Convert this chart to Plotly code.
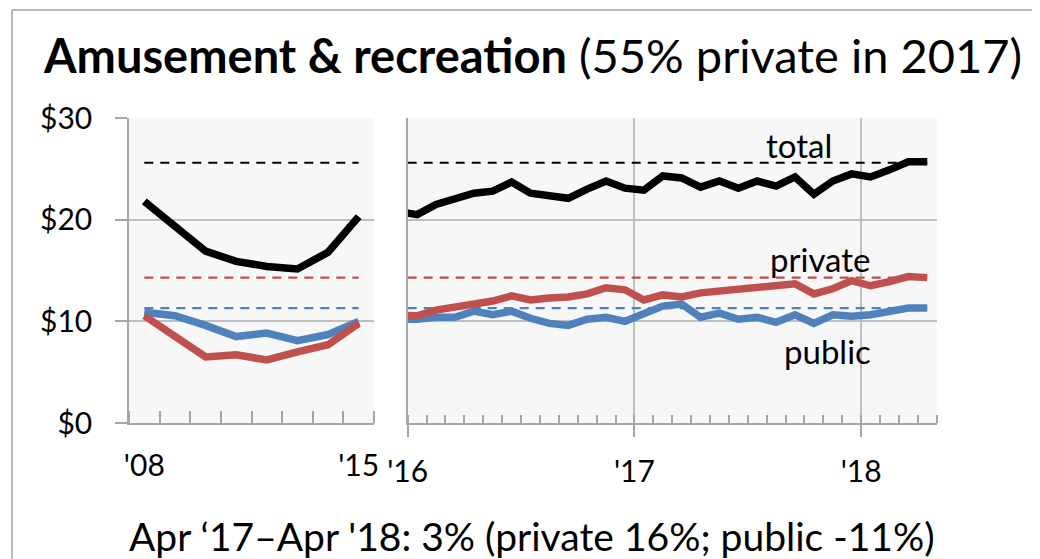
import plotly.graph_objects as go

# ---------------- data ----------------
years = ["'08", "'09", "'10", "'11", "'12", "'13", "'14", "'15"]
total_annual = [21.8, 19.3, 16.9, 15.9, 15.4, 15.15, 16.8, 20.3]
private_annual = [10.55, 8.5, 6.5, 6.7, 6.2, 7.0, 7.7, 9.8]
public_annual = [10.9, 10.55, 9.6, 8.5, 8.85, 8.1, 8.7, 10.0]

months = ["2015-12",
          "2016-01", "2016-02", "2016-03", "2016-04", "2016-05", "2016-06",
          "2016-07", "2016-08", "2016-09", "2016-10", "2016-11", "2016-12",
          "2017-01", "2017-02", "2017-03", "2017-04", "2017-05", "2017-06",
          "2017-07", "2017-08", "2017-09", "2017-10", "2017-11", "2017-12",
          "2018-01", "2018-02", "2018-03", "2018-04"]
total_monthly = [20.8,
                 20.5, 21.5, 22.0, 22.6, 22.8, 23.7, 22.6, 22.4, 22.1, 23.0, 23.8, 23.1,
                 22.9, 24.3, 24.1, 23.2, 23.8, 23.1, 23.8, 23.3, 24.2, 22.5, 23.8, 24.5,
                 24.2, 24.9, 25.7, 25.7]
private_monthly = [10.6,
                   10.55, 11.1, 11.4, 11.6, 12.0, 12.5, 12.1, 12.3, 12.4, 12.7, 13.3, 13.1,
                   12.1, 12.6, 12.4, 12.8, 12.95, 13.1, 13.4, 13.4, 13.7, 12.7, 13.2, 14.0,
                   13.5, 13.9, 14.4, 14.3]
public_monthly = [10.2,
                  10.2, 10.4, 10.4, 11.0, 10.65, 11.0, 10.3, 9.8, 9.6, 10.2, 10.4, 10.0,
                  10.8, 11.5, 11.7, 10.4, 10.8, 10.2, 10.4, 9.9, 10.65, 9.8, 10.65, 10.5,
                  10.65, 10.9, 11.3, 11.3]

# reference levels (latest values, Apr 2018)
ref_total = 25.6
ref_private = 14.3
ref_public = 11.3

year_ticks = ["'16", "'17", "'18"]
y_ticks = [0, 10, 20, 30]
y_labels = ["$0", "$10", "$20", "$30"]

title_bold = "Amusement & recreation"
title_rest = " (55% private in 2017)"
footer = "Apr ‘17–Apr '18: 3% (private 16%; public -11%)"

# ---------------- styles ----------------
BLACK = "#000000"
RED = "#C0504D"
BLUE = "#4F81BD"
GRID = "#BFBFBF"
AXIS = "#A6A6A6"
BG = "#F7F7F7"
FONT = "Lato"

# the page body adds an 8px margin, so the figure is shrunk and shifted by it
OFF = 8
W, H = 1040 - OFF, 559 - OFF
def px_x(p): return (p - OFF) / W
def px_y(p): return 1 - (p - OFF) / H

fig = go.Figure()

xa = list(range(len(years)))
first_month = 2016 * 12 + 0
xm = [(int(m[:4]) * 12 + int(m[5:]) - 1) - first_month for m in months]

series = [
    (total_annual, total_monthly, ref_total, BLACK),
    (private_annual, private_monthly, ref_private, RED),
    (public_annual, public_monthly, ref_public, BLUE),
]
# dashed reference lines
for _, _, ref, col in series:
    fig.add_trace(go.Scatter(x=[xa[0], xa[-1]], y=[ref, ref], mode="lines",
                             line=dict(color=col, width=2.2, dash="9px,7px"),
                             xaxis="x", yaxis="y", hoverinfo="skip"))
    fig.add_trace(go.Scatter(x=[-0.5, xm[-1]], y=[ref, ref], mode="lines",
                             line=dict(color=col, width=2.2, dash="9px,7px"),
                             xaxis="x2", yaxis="y2", hoverinfo="skip"))
# draw public, private, total order (total on top)
for ann, mon, _, col in reversed(series):
    fig.add_trace(go.Scatter(x=xa, y=ann, mode="lines",
                             line=dict(color=col, width=7.5),
                             xaxis="x", yaxis="y"))
    fig.add_trace(go.Scatter(x=xm, y=mon, mode="lines",
                             line=dict(color=col, width=7.5),
                             xaxis="x2", yaxis="y2"))

n_months = len(months) - 1
dom_y = [px_y(423), px_y(118)]

fig.update_layout(
    width=W, height=H,
    margin=dict(l=0, r=0, t=0, b=0, autoexpand=False),
    paper_bgcolor="white",
    plot_bgcolor=BG,
    showlegend=False,
    font=dict(family=FONT, color="black", size=30),
    xaxis=dict(domain=[px_x(129), px_x(374)], range=[-0.5, len(years) - 0.5],
               tickmode="array", tickvals=[0, len(years) - 1],
               ticktext=[years[0], years[-1]],
               ticks="", showgrid=False, zeroline=False,
               showline=True, linecolor=AXIS, linewidth=1.5,
               ticklabelstandoff=15, automargin=False,
               minor=dict(tickmode="array",
                          tickvals=[i - 0.5 for i in range(len(years) + 1)],
                          ticks="inside", ticklen=12, tickcolor=AXIS, tickwidth=1.5,
                          showgrid=False)),
    yaxis=dict(domain=dom_y, range=[0, 30], tickvals=y_ticks, ticktext=y_labels,
               ticks="outside", ticklen=12, tickcolor=AXIS, tickwidth=1.5,
               showline=True, linecolor=AXIS, linewidth=1.5,
               showgrid=True, gridcolor=GRID, gridwidth=1.5, zeroline=False,
               ticklabelstandoff=17, automargin=False),
    xaxis2=dict(domain=[px_x(407.7), px_x(936.7)], range=[-0.5, n_months - 0.5],
                anchor="y2",
                tickmode="array", tickvals=[-0.5, 11.5, 23.5], ticktext=year_ticks,
                ticks="outside", ticklen=12, tickcolor=AXIS, tickwidth=1.5,
                showgrid=True, gridcolor=GRID, gridwidth=1.5, zeroline=False,
                showline=True, linecolor=AXIS, linewidth=1.5,
                ticklabelstandoff=9, automargin=False,
                minor=dict(tickmode="array",
                           tickvals=[i - 0.5 for i in range(n_months + 1)],
                           ticks="inside", ticklen=8, tickcolor=AXIS, tickwidth=1.5,
                           showgrid=False)),
    yaxis2=dict(domain=dom_y, range=[0, 30], anchor="x2", tickvals=y_ticks,
                showticklabels=False, ticks="", automargin=False,
                showline=True, linecolor=AXIS, linewidth=1.5,
                showgrid=True, gridcolor=GRID, gridwidth=1.5, zeroline=False),
)

fig.add_annotation(xref="paper", yref="paper", x=px_x(532), y=px_y(55),
                   xanchor="center", yanchor="middle", showarrow=False,
                   text=f"<b>{title_bold}</b>{title_rest}",
                   font=dict(size=47, family=FONT))
fig.add_annotation(xref="paper", yref="paper", x=px_x(532), y=px_y(536),
                   xanchor="center", yanchor="middle", showarrow=False,
                   text=footer, font=dict(size=39, family=FONT))
for label, xx, yy in [("total", 20.2, 27.3), ("private", 21.3, 16.1), ("public", 21.7, 7.1)]:
    fig.add_annotation(xref="x2", yref="y2", x=xx, y=yy, text=label,
                       showarrow=False, font=dict(size=33, family=FONT))

fig.add_shape(type="rect", xref="paper", yref="paper",
              x0=px_x(12), x1=px_x(1050), y0=px_y(575), y1=px_y(10),
              line=dict(color="#A0A0A0", width=1.5), fillcolor="rgba(0,0,0,0)")

fig.write_html("out.html")
